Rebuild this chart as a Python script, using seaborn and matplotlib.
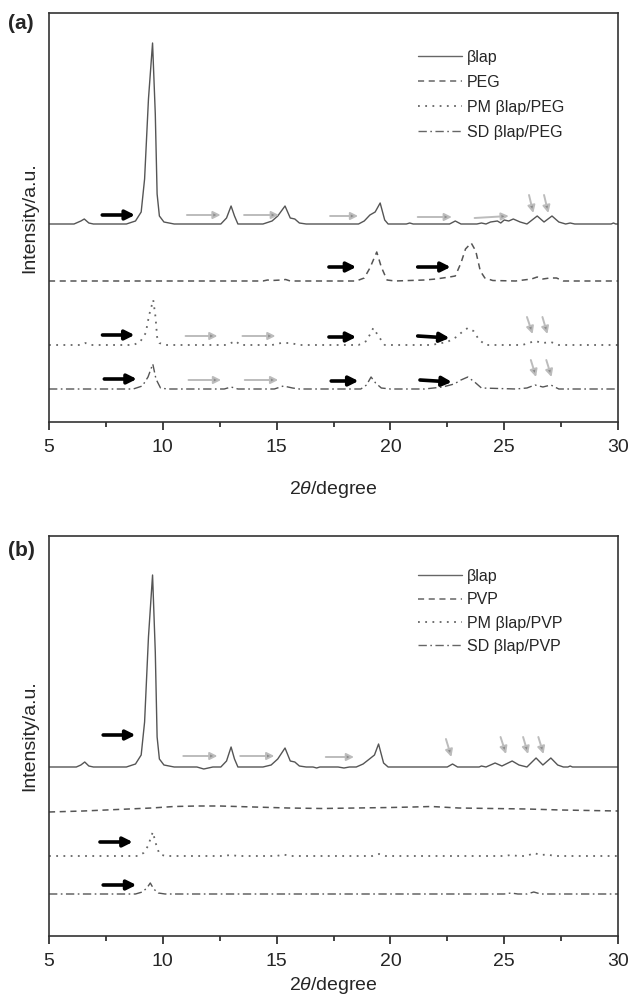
import matplotlib
matplotlib.use("Agg")
import matplotlib.pyplot as plt
from matplotlib.ticker import MultipleLocator
import seaborn as sns

# ---------------- data ----------------
# x = 2theta (degree), y = intensity above each trace's own baseline (a.u.)

# panel (a)
a_blap_x = [5.0, 6.1, 6.4, 6.55, 6.75, 6.95, 8.4, 8.8, 9.05, 9.2, 9.37, 9.55, 9.67, 9.75, 9.85,
            10.05, 10.5, 12.55, 12.8, 13.0, 13.15, 13.3, 14.4, 14.8, 15.05, 15.37, 15.6, 15.8,
            16.0, 16.3, 18.6, 18.85, 19.1, 19.33, 19.55, 19.75, 19.9, 20.7, 20.85, 21.0, 22.6,
            22.85, 23.1, 23.8, 24.0, 24.2, 24.4, 24.7, 24.85, 25.0, 25.2, 25.4, 25.7, 26.0,
            26.45, 26.75, 27.1, 27.4, 27.7, 27.9, 28.1, 29.7, 29.8, 29.9, 30.0]
a_blap_y = [0, 0, 3, 5, 1, 0, 0, 3, 12, 45, 125, 181, 110, 30, 8,
            2, 0, 0, 6, 18, 8, 0, 0, 3, 8, 18, 6, 5,
            1, 0, 0, 3, 9, 12, 21, 4, 0, 0, 1, 0, 0,
            3, 0, 0, 1, 0, 2, 3, 1, 4, 3, 5, 2, 0,
            8, 2, 8, 2, 0, 1, 0, 0, 1, 0, 0]

a_peg_x = [5.0, 14.4, 14.6, 14.8, 15.2, 15.4, 15.6, 18.5, 18.85, 19.1, 19.4, 19.6, 19.85, 20.2,
           21.5, 22.0, 22.6, 22.85, 23.1, 23.3, 23.55, 23.75, 23.95, 24.15, 24.5, 25.5, 26.2,
           26.45, 26.7, 27.0, 27.3, 27.6, 28.0, 30.0]
a_peg_y = [0, 0, 1, 0.5, 1, 1.5, 0, 0, 3, 13, 29, 14, 1, 0,
           1, 2, 4, 5, 18, 32, 38, 30, 10, 3, 0.5, 0, 2,
           4, 2, 3, 3, 0, 0, 0]

a_pm_x = [5.0, 6.4, 6.6, 6.8, 8.7, 9.0, 9.25, 9.4, 9.58, 9.68, 9.75, 9.85, 10.1, 12.8, 13.0,
          13.2, 13.4, 14.8, 15.2, 15.6, 16.0, 18.6, 18.95, 19.25, 19.5, 19.75, 21.8, 22.5,
          22.9, 23.15, 23.4, 23.65, 23.9, 24.2, 25.8, 26.35, 26.7, 27.05, 27.4, 30.0]
a_pm_y = [0, 0, 2, 0, 0, 3, 12, 30, 45, 28, 8, 2, 0, 0, 2,
          4, 0, 0, 2, 2, 0, 0, 4, 17, 8, 0, 0, 3,
          8, 13, 17, 14, 5, 0, 0, 4, 2, 3, 0, 0]

a_sd_x = [5.0, 8.7, 9.1, 9.35, 9.56, 9.7, 9.9, 10.2, 12.7, 13.0, 13.3, 14.9, 15.3, 15.7, 16.0,
          18.7, 18.95, 19.15, 19.35, 19.6, 20.0, 21.5, 22.3, 22.8, 23.1, 23.4, 23.7, 24.0,
          25.5, 26.0, 26.35, 26.7, 27.05, 27.4, 30.0]
a_sd_y = [0, 0, 3, 12, 25, 10, 1, 0, 0, 2, 0, 0, 3, 1, 0,
          0, 4, 12, 6, 1, 0, 0, 2, 5, 9, 12, 7, 1,
          0, 1, 4, 2, 4, 0, 0]

# panel (b)
b_blap_x = [5.0, 6.2, 6.4, 6.57, 6.75, 6.95, 8.4, 8.8, 9.05, 9.2, 9.37, 9.55, 9.67, 9.75, 9.85,
            10.05, 10.5, 11.5, 11.8, 12.2, 12.55, 12.8, 13.0, 13.15, 13.3, 14.4, 14.76, 15.05,
            15.37, 15.6, 15.8, 16.0, 16.3, 16.6, 16.76, 16.9, 17.7, 17.96, 18.2, 18.5, 18.8,
            19.08, 19.3, 19.48, 19.7, 19.9, 22.5, 22.73, 22.95, 23.9, 24.0, 24.2, 24.6, 24.9,
            25.35, 25.65, 26.0, 26.4, 26.7, 27.05, 27.35, 27.6, 27.8, 27.9, 28.0, 30.0]
b_blap_y = [0, 0, 2, 5, 1, 0, 0, 3, 12, 45, 130, 192, 115, 30, 8,
            2, 0, 0, -2, 0, 0, 6, 20, 8, 0, 0, 2, 8,
            19, 6, 5, 1, 0, 0, -1, 0, 0, -1, 0, 0, 3,
            8, 12, 23, 4, 0, 0, 3, 0, 0, 1, 0, 4, 1,
            6, 2, 0, 9, 2, 9, 2, 0, 0, 1, 0, 0]

b_pvp_x = [5.0, 6.5, 8.0, 9.5, 10.5, 11.5, 12.5, 14.0, 15.5, 17.0, 18.5, 20.0, 21.0, 21.8,
           23.0, 24.5, 26.0, 27.5, 30.0]
b_pvp_y = [-1, 0, 1.5, 3, 4.5, 5, 5, 4, 3, 2.5, 3, 3.5, 4, 4.5,
           3, 2.5, 2, 1, 0]

b_pm_x = [5.0, 8.9, 9.15, 9.35, 9.56, 9.7, 9.85, 10.1, 12.6, 13.0, 13.3, 15.0, 15.3, 15.6,
          19.2, 19.5, 19.8, 25.0, 25.3, 25.6, 26.0, 26.3, 26.6, 26.9, 27.2, 30.0]
b_pm_y = [0, 0, 3, 10, 24, 12, 2, 0, 0, 1, 0, 0, 1.5, 0,
          0, 2, 0, 0, 1, 0, 0, 3, 1, 1.5, 0, 0]

b_sd_x = [5.0, 8.8, 9.1, 9.3, 9.45, 9.6, 9.8, 10.1, 25.0, 25.3, 25.6, 26.0, 26.3, 26.6, 30.0]
b_sd_y = [0, 0, 2, 6, 11, 5, 1, 0, 0, 1, 0, 0, 2, 0, 0]

labels_a = ["\u03b2lap", "PEG", "PM \u03b2lap/PEG", "SD \u03b2lap/PEG"]
labels_b = ["\u03b2lap", "PVP", "PM \u03b2lap/PVP", "SD \u03b2lap/PVP"]
offsets_a = [198, 141, 77, 33]
offsets_b = [169, 125, 80, 42]

# arrows: (x_start, x_end, y_start, y_end) in data units
black_arrows_a = [(7.34, 8.78, 207, 207),
                  (17.3, 18.5, 155, 155), (21.2, 22.65, 155, 155),
                  (7.35, 8.76, 87, 87), (17.3, 18.5, 85, 85), (21.2, 22.6, 86, 84),
                  (7.43, 8.86, 43, 43), (17.4, 18.6, 41, 41), (21.3, 22.7, 42, 40)]
gray_arrows_a = [(11.06, 12.54, 207, 207), (13.57, 15.1, 207, 207), (17.35, 18.58, 206, 206),
                 (21.2, 22.7, 205, 205), (23.7, 25.2, 204, 206),
                 (26.09, 26.28, 227, 209), (26.75, 26.94, 227, 209),
                 (11.0, 12.4, 86, 86), (13.5, 14.95, 86, 86),
                 (26.0, 26.25, 105, 88), (26.68, 26.9, 105, 88),
                 (11.13, 12.56, 42, 42), (13.6, 15.07, 42, 42),
                 (26.17, 26.4, 62, 45), (26.85, 27.08, 62, 45)]
black_arrows_b = [(7.38, 8.8, 201, 201), (7.24, 8.68, 94, 94), (7.38, 8.84, 51, 51)]
gray_arrows_b = [(10.9, 12.4, 180, 180), (13.4, 14.9, 180, 180), (17.16, 18.4, 179, 179),
                 (22.44, 22.68, 197, 179), (24.84, 25.08, 199, 182),
                 (25.83, 26.05, 199, 182), (26.5, 26.73, 199, 182)]

# ---------------- styling ----------------
sns.set_style("ticks")
plt.rcParams["font.family"] = ["Liberation Sans", "DejaVu Sans"]
plt.rcParams["mathtext.fontset"] = "custom"
plt.rcParams["mathtext.it"] = "Liberation Sans:italic"
plt.rcParams["mathtext.rm"] = "Liberation Sans"

LINE_STYLES = [
    dict(color="#555555", linestyle="-", linewidth=1.0),
    dict(color="#555555", linestyle=(0, (4, 3)), linewidth=1.1),
    dict(color="#666666", linestyle=(0, (1, 3)), linewidth=1.3),
    dict(color="#555555", linestyle=(0, (6, 2.5, 1.2, 2.5)), linewidth=1.0),
]

fig = plt.figure(figsize=(6.28, 10.01), dpi=100)
W, H = 628, 1001
ax_a = fig.add_axes([49 / W, 1 - 422 / H, 569 / W, 409 / H])
ax_b = fig.add_axes([49 / W, 1 - 936 / H, 569 / W, 400 / H])


def draw_panel(ax, traces, labels, offsets, ylim, black, gray, label_pad,
               legend_anchor, legend_spacing):
    for (xs, ys), lab, off, style in zip(traces, labels, offsets, LINE_STYLES):
        sns.lineplot(x=xs, y=[v + off for v in ys], ax=ax, estimator=None, sort=False,
                     label=lab, **style)
    for x0, x1, y0, y1 in black:
        ax.annotate("", xy=(x1, y1), xytext=(x0, y0),
                    arrowprops=dict(arrowstyle="-|>", color="black", lw=2.6,
                                    mutation_scale=14, shrinkA=0, shrinkB=0))
    for x0, x1, y0, y1 in gray:
        ax.annotate("", xy=(x1, y1), xytext=(x0, y0),
                    arrowprops=dict(arrowstyle="-|>", edgecolor="#bcbcbc",
                                    facecolor="#8c8c8c", lw=1.4,
                                    mutation_scale=11, shrinkA=0, shrinkB=0))
    ax.set_xlim(5, 30)
    ax.set_ylim(*ylim)
    ax.set_yticks([])
    ax.xaxis.set_major_locator(MultipleLocator(5))
    ax.xaxis.set_minor_locator(MultipleLocator(2.5))
    ax.tick_params(axis="x", which="major", direction="out", length=6, width=1.2,
                   labelsize=14, pad=6, color="#222222")
    ax.tick_params(axis="x", which="minor", direction="out", length=3.5, width=1.2,
                   color="#222222")
    for sp in ax.spines.values():
        sp.set_visible(True)
        sp.set_linewidth(1.2)
        sp.set_color("#333333")
    ax.set_xlabel(r"2$\mathit{\theta}$/degree", fontsize=14, labelpad=label_pad)
    ax.set_ylabel("Intensity/a.u.", fontsize=14)
    ax.yaxis.set_label_coords(-11 / 569, 0.5)
    leg = ax.legend(loc="upper left", bbox_to_anchor=legend_anchor, frameon=False,
                    fontsize=11.5, handlelength=2.75, handletextpad=0.3,
                    labelspacing=legend_spacing, borderaxespad=0, borderpad=0)
    for line in leg.get_lines():
        line.set_color("#666666")


draw_panel(ax_a,
           [(a_blap_x, a_blap_y), (a_peg_x, a_peg_y), (a_pm_x, a_pm_y), (a_sd_x, a_sd_y)],
           labels_a, offsets_a, (0, 409), black_arrows_a, gray_arrows_a, 17,
           ((418 - 49) / 569, 1 - (50 - 13) / 409), 0.62)
draw_panel(ax_b,
           [(b_blap_x, b_blap_y), (b_pvp_x, b_pvp_y), (b_pm_x, b_pm_y), (b_sd_x, b_sd_y)],
           labels_b, offsets_b, (0, 400), black_arrows_b, gray_arrows_b, 4,
           ((418 - 49) / 569, 1 - (569 - 536) / 400), 0.52)

fig.text(8 / W, 1 - 14 / H, "(a)", fontsize=15, fontweight="bold", ha="left", va="top")
fig.text(8 / W, 1 - 541 / H, "(b)", fontsize=15, fontweight="bold", ha="left", va="top")

fig.savefig("out.png", dpi=100)
